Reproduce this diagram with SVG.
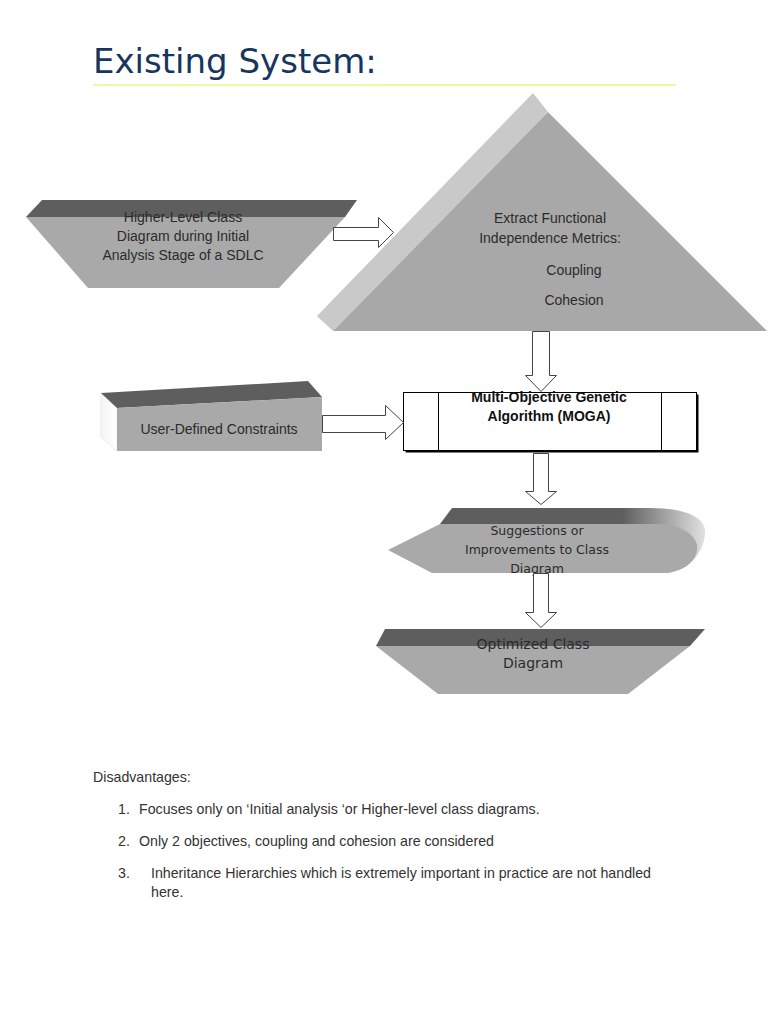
<svg xmlns="http://www.w3.org/2000/svg" width="768" height="1024" viewBox="0 0 768 1024">
<style>
.t{font-family:"Liberation Sans",Arial,sans-serif;font-size:14px;fill:#2b2b2b;text-anchor:middle}
.d{font-family:"DejaVu Sans",sans-serif;fill:#2b2b2b;text-anchor:middle}
.b{font-family:"Liberation Sans",Arial,sans-serif;font-size:14px;font-weight:bold;fill:#111;text-anchor:middle}
.p{font-family:"Liberation Sans",Arial,sans-serif;font-size:14.2px;fill:#333}
.band{fill:#5e5e5e}
.face{fill:#a9a9a9}
.arr{fill:#fff;stroke:#444;stroke-width:1}
</style>
<defs>
<linearGradient id="sg" x1="440" y1="0" x2="708" y2="0" gradientUnits="userSpaceOnUse">
<stop offset="0" stop-color="#5e5e5e"/>
<stop offset="0.68" stop-color="#5e5e5e"/>
<stop offset="1" stop-color="#e6e6e6"/>
</linearGradient>
<linearGradient id="lg" x1="0" y1="0" x2="1" y2="0">
<stop offset="0" stop-color="#f4f4f4"/>
<stop offset="1" stop-color="#ffffff"/>
</linearGradient>
</defs>
<rect width="768" height="1024" fill="#fff"/>
<g id="title">
<text x="93" y="73" font-family="DejaVu Sans, sans-serif" font-size="34" fill="#17365d">Existing System:</text>
<line x1="93" y1="85" x2="676" y2="85" stroke="#f2e84a" stroke-width="1.2"/>
</g>
<g id="higher-level">
<polygon class="band" points="42,200 357,200 345,217 26,217"/>
<polygon class="face" points="26,217 345,217 279,288 88,288"/>
<text class="t" x="183" y="222">Higher-Level Class</text>
<text class="t" x="183" y="241">Diagram during Initial</text>
<text class="t" x="183" y="260">Analysis Stage of a SDLC</text>
</g>
<g id="extract">
<polygon fill="#c9c9c9" points="533,93 548,112 333,331 317,316"/>
<polygon fill="#a8a8a8" points="548,112 767,331 333,331"/>
<text class="t" x="550" y="223">Extract Functional</text>
<text class="t" x="550" y="243">Independence Metrics:</text>
<text class="t" x="574" y="275">Coupling</text>
<text class="t" x="574" y="305">Cohesion</text>
</g>
<g id="constraints">
<polygon fill="url(#lg)" stroke="#e0e0e0" stroke-width="0.6" points="101,393 117,408 117,451 101,437"/>
<polygon class="band" points="101,393 308,381 322,397 117,408"/>
<polygon class="face" points="117,408 322,397 322,451 117,451"/>
<text class="t" x="219" y="434">User-Defined Constraints</text>
</g>
<g id="moga">
<rect x="405.5" y="394.5" width="293" height="58" fill="#000"/>
<rect x="403.5" y="392.5" width="293" height="58" fill="#fff" stroke="#000" stroke-width="1"/>
<line x1="438.5" y1="392.5" x2="438.5" y2="450.5" stroke="#000" stroke-width="1"/>
<line x1="661.5" y1="392.5" x2="661.5" y2="450.5" stroke="#000" stroke-width="1"/>
<text class="b" x="549" y="402">Multi-Objective Genetic</text>
<text class="b" x="549" y="421">Algorithm (MOGA)</text>
</g>
<g id="suggestions">
<path fill="url(#sg)" d="M452,508 L650,508 C690,508 708,520 705,535 C702,556 688,569 668,573 L440,524 Z"/>
<path class="face" d="M388,550 L440,524 L655,524 C683,524 699,537 697,550 C695,563 682,573 660,573 L432,573 Z"/>
<text class="d" font-size="12.5" x="537" y="535">Suggestions or</text>
<text class="d" font-size="12.5" x="537" y="554">Improvements to Class</text>
<text class="d" font-size="12.5" x="537" y="573">Diagram</text>
</g>
<g id="optimized">
<polygon class="band" points="385,629 705,629 690,646 376,646"/>
<polygon class="face" points="376,646 690,646 628,694 438,694"/>
<text class="d" font-size="14" x="533" y="649">Optimized Class</text>
<text class="d" font-size="14" x="533" y="668">Diagram</text>
</g>
<g id="connectors">
<polygon class="arr" points="333.5,227.5 378.5,227.5 378.5,217.5 393.5,232.5 378.5,247.5 378.5,240.5 333.5,240.5"/>
<polygon class="arr" points="532.5,331.5 549.5,331.5 549.5,375.5 556.5,375.5 541,391.5 525.5,375.5 532.5,375.5"/>
<polygon class="arr" points="322.5,415.5 385.5,415.5 385.5,405.5 403.5,422.5 385.5,439.5 385.5,432.5 322.5,432.5"/>
<polygon class="arr" points="533.5,453.5 548.5,453.5 548.5,491.5 556.5,491.5 541,504.5 525.5,491.5 533.5,491.5"/>
<polygon class="arr" points="533.5,573.5 548.5,573.5 548.5,612.5 556.5,612.5 541,627.5 525.5,612.5 533.5,612.5"/>
</g>
<g id="disadvantages">
<text class="p" x="93" y="782">Disadvantages:</text>
<text class="p" x="118" y="814">1.</text>
<text class="p" x="139" y="814">Focuses only on ‘Initial analysis ‘or Higher-level class diagrams.</text>
<text class="p" x="118" y="846">2.</text>
<text class="p" x="139" y="846">Only 2 objectives, coupling and cohesion are considered</text>
<text class="p" x="118" y="878">3.</text>
<text class="p" x="151" y="878">Inheritance Hierarchies which is extremely important in practice are not handled</text>
<text class="p" x="151" y="897">here.</text>
</g>
</svg>
